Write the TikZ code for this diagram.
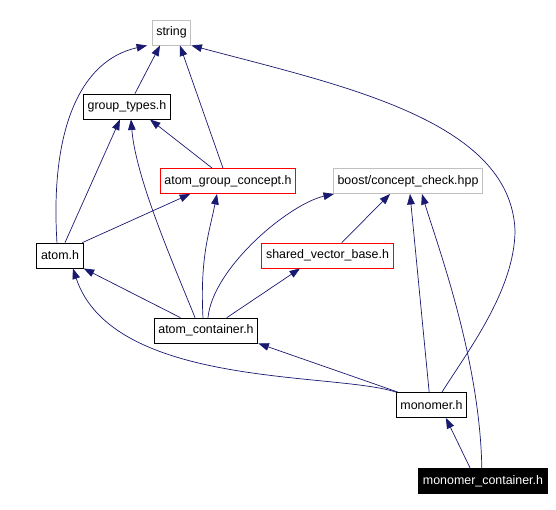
\documentclass[tikz,border=0pt]{standalone}
\usepackage{fontspec}
\setmainfont{Liberation Sans}
\usetikzlibrary{arrows.meta}
\definecolor{depblue}{HTML}{191970}
\definecolor{extgray}{HTML}{C0C0C0}

\begin{document}
\begin{tikzpicture}[x=0.03cm,y=0.03cm,>={Triangle[length=9pt,width=6.5pt]},
  font=\fontsize{10.6}{12}\selectfont,line cap=round,
  file/.style={draw=black,line width=0.8pt,minimum height=21.3pt,inner xsep=3.6pt,inner ysep=0pt},
  extfile/.style={file,draw=extgray},
  redfile/.style={file,draw=red},
  topfile/.style={file,fill=black,text=white},
  dep/.style={->,draw=depblue,line width=0.6pt}]
\useasboundingbox (0,0) rectangle (556,-510);
\node[extfile] (string) at (171.5,-32.5) {string};
\node[file] (grouptypes) at (127,-106.5) {group\_types.h};
\node[redfile] (agc) at (228,-181) {atom\_group\_concept.h};
\node[extfile] (boost) at (408,-181) {boost/concept\_check.hpp};
\node[file] (atom) at (60,-255.5) {atom.h};
\node[redfile] (svb) at (327.5,-255.5) {shared\_vector\_base.h};
\node[file] (atomcont) at (206,-330.5) {atom\_container.h};
\node[file] (monomer) at (431.5,-405) {monomer.h};
\node[topfile] (monocont) at (483,-481) {monomer\_container.h};
\coordinate (rbend) at (515,-230);
\draw[dep] ([xshift=6.8pt]grouptypes.north) -- ([xshift=-9.8pt]string.south);
\draw[dep] ([xshift=-4.3pt]agc.north) -- ([xshift=7.2pt]string.south);
\draw[dep] ([xshift=-13.6pt]agc.north) -- ([xshift=19.6pt]grouptypes.south);
\draw[dep] ([xshift=-2.6pt]atom.north) .. controls +(-7,113) and +(-67,-15) .. ([xshift=-20.8pt]string.south);
\draw[dep] ([xshift=4.3pt]atom.north) -- ([xshift=-6pt]grouptypes.south);
\draw[dep] ([xshift=-1pt]atom.north east) -- ([xshift=26pt]agc.south west);
\draw[dep] ([xshift=-9.4pt]atomcont.north) .. controls +(-20,50) and +(5,-60) .. ([xshift=3.4pt]grouptypes.south);
\draw[dep] ([xshift=-2.6pt]atomcont.north) .. controls +(-3,60) and +(-8,-40) .. ([xshift=-9.4pt]agc.south);
\draw[dep] ([xshift=-22pt]atomcont.north) -- (atom.south east);
\draw[dep] ([xshift=1.7pt]atomcont.north) .. controls +(5,50) and +(-45,-10) .. ([xshift=1pt]boost.south west);
\draw[dep] ([xshift=17.9pt]atomcont.north) -- ([xshift=-23.4pt]svb.south);
\draw[dep] ([xshift=12.3pt]svb.north) -- ([xshift=-15.3pt]boost.south);
\draw[dep] ([xshift=9pt]monomer.north) .. controls +(25,40) and +(0,-60) .. (rbend)
  .. controls +(-5,110) and +(150,-40) .. (string.south east);
\draw[dep] (monomer.north west) .. controls +(-60,20) and +(40,-120) .. ([xshift=11pt]atom.south);
\draw[dep] ([xshift=1.7pt]monomer.north west) -- (atomcont.south east);
\draw[dep] ([xshift=-2pt]monomer.north) -- ([xshift=1.7pt]boost.south);
\draw[dep] ([xshift=-1pt]monocont.north) .. controls +(-2,110) and +(15,-50) .. ([xshift=11.9pt]boost.south);
\draw[dep] ([xshift=-11pt]monocont.north) -- ([xshift=12.3pt]monomer.south);
\end{tikzpicture}
\end{document}
